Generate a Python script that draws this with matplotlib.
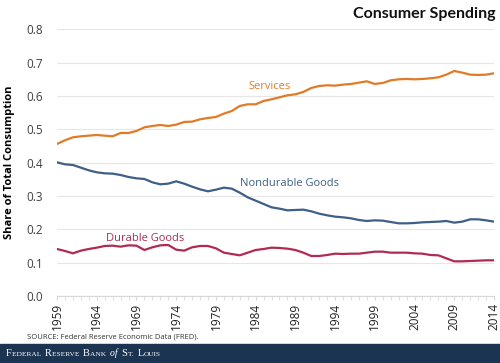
import numpy as np
import matplotlib.pyplot as plt

years = list(range(1959, 2015))

services = [0.456, 0.467, 0.476, 0.479, 0.481, 0.483, 0.481, 0.479, 0.489, 0.489,
            0.495, 0.506, 0.510, 0.513, 0.510, 0.514, 0.522, 0.523, 0.530, 0.534,
            0.537, 0.547, 0.555, 0.570, 0.575, 0.575, 0.585, 0.590, 0.596, 0.602,
            0.605, 0.612, 0.624, 0.630, 0.632, 0.631, 0.634, 0.636, 0.640, 0.644,
            0.636, 0.639, 0.647, 0.650, 0.651, 0.650, 0.651, 0.653, 0.656, 0.664,
            0.675, 0.670, 0.664, 0.663, 0.664, 0.668]

nondurable = [0.401, 0.395, 0.393, 0.385, 0.377, 0.371, 0.368, 0.367, 0.363, 0.357,
              0.353, 0.351, 0.341, 0.335, 0.337, 0.344, 0.337, 0.328, 0.320, 0.314,
              0.319, 0.325, 0.322, 0.310, 0.296, 0.286, 0.276, 0.266, 0.262, 0.257,
              0.258, 0.259, 0.254, 0.247, 0.242, 0.238, 0.236, 0.233, 0.228, 0.225,
              0.227, 0.226, 0.222, 0.218, 0.218, 0.219, 0.221, 0.222, 0.223, 0.225,
              0.220, 0.223, 0.230, 0.230, 0.227, 0.223]

durable = [0.141, 0.135, 0.128, 0.136, 0.141, 0.145, 0.150, 0.151, 0.148, 0.152,
           0.151, 0.138, 0.146, 0.152, 0.153, 0.139, 0.136, 0.146, 0.150, 0.150,
           0.143, 0.130, 0.126, 0.122, 0.130, 0.138, 0.141, 0.145, 0.144, 0.142,
           0.138, 0.130, 0.120, 0.120, 0.123, 0.127, 0.126, 0.127, 0.127, 0.130,
           0.133, 0.133, 0.130, 0.130, 0.130, 0.128, 0.127, 0.123, 0.122, 0.113,
           0.104, 0.104, 0.105, 0.106, 0.107, 0.107]

tick_years = list(range(1959, 2015, 5))
y_ticks = [0.0, 0.1, 0.2, 0.3, 0.4, 0.5, 0.6, 0.7, 0.8]

c_serv = '#e07b28'
c_nond = '#3f5f88'
c_dur = '#b02a52'
font = 'Open Sans'

fig = plt.figure(figsize=(5.0, 3.63), dpi=100)
ax = fig.add_axes([57 / 500, 1 - 296 / 363, 437 / 500, (296 - 29.3) / 363])

ax.plot(years, services, color=c_serv, lw=1.6)
ax.plot(years, nondurable, color=c_nond, lw=1.6)
ax.plot(years, durable, color=c_dur, lw=1.6)

ax.set_xlim(1959, 2014)
ax.set_ylim(0, 0.8)
ax.set_yticks(y_ticks)
ax.set_yticklabels(['%.1f' % v for v in y_ticks], fontsize=8.5, color='#404040', family=font)
ax.set_xticks(tick_years)
ax.set_xticklabels([str(y) for y in tick_years], rotation=90, fontsize=8.5,
                   color='#202020', family=font)
ax.set_xticks(years, minor=True)
ax.tick_params(axis='y', length=0, pad=10)
ax.tick_params(axis='x', which='both', length=3, color='#d8d8d8', pad=2)
ax.grid(axis='y', color='#e6e6e6', lw=0.8)
ax.set_axisbelow(True)
for s in ['top', 'right', 'left']:
    ax.spines[s].set_visible(False)
ax.spines['bottom'].set_color('#d8d8d8')

ax.set_ylabel('Share of Total Consumption', fontsize=8, fontweight='bold',
              family=font, labelpad=8)

ax.text(1985.8, 0.627, 'Services', color=c_serv, fontsize=8, ha='center',
        va='center', family=font)
ax.text(1988.3, 0.336, 'Nondurable Goods', color=c_nond, fontsize=8,
        ha='center', va='center', family=font)
ax.text(1970.1, 0.171, 'Durable Goods', color=c_dur, fontsize=8, ha='center',
        va='center', family=font)

fig.text(496 / 500, 1 - 14 / 363, 'Consumer Spending', ha='right', va='center',
         fontsize=11.5, fontweight='bold', family='Lato', color='#111111')
fig.text(27 / 500, 1 - 337 / 363, 'SOURCE: Federal Reserve Economic Data (FRED).',
         ha='left', va='center', fontsize=5.5, family=font, color='#333333')

# footer band with small-caps style name
fig.patches.append(plt.Rectangle((0, 0), 1, 19 / 363, transform=fig.transFigure,
                                 color='#1b3452', zorder=0))
renderer = fig.canvas.get_renderer()
pieces = [('F', 7.5, 'normal'), ('EDERAL ', 5.3, 'normal'),
          ('R', 7.5, 'normal'), ('ESERVE ', 5.3, 'normal'),
          ('B', 7.5, 'normal'), ('ANK ', 5.3, 'normal'),
          ('of ', 7, 'italic'),
          ('S', 7.5, 'normal'), ('T. ', 5.3, 'normal'),
          ('L', 7.5, 'normal'), ('OUIS', 5.3, 'normal')]
x = 6.0
for s, size, style in pieces:
    t = fig.text(x / 500, 7 / 363, s, ha='left', va='baseline', fontsize=size,
                 style=style, family='Liberation Serif', color='white')
    bb = t.get_window_extent(renderer)
    x += bb.width + (2.0 if s.endswith(' ') else 0.0)

fig.savefig('out.png', dpi=100)
